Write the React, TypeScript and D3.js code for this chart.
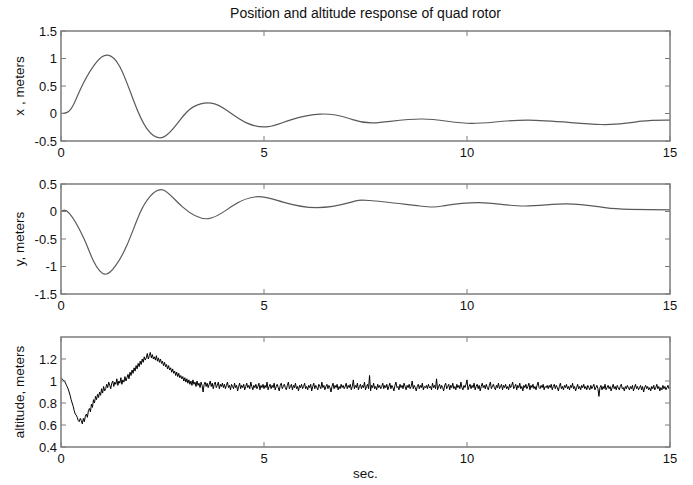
import React from "react";
import * as d3 from "d3";

// x position samples (sec, meters)
const xTimes = [0, 0.15, 0.3, 0.55, 0.88, 1.15, 1.45, 1.78, 2.11, 2.52, 2.93, 3.26, 3.7, 4.1, 4.57, 5.1, 5.64, 6.4, 7.1, 7.7, 8.9, 10.1, 11.5, 13.3, 14.3, 15];
const xValues = [0, 0.02, 0.15, 0.55, 0.94, 1.06, 0.85, 0.25, -0.27, -0.43, -0.12, 0.12, 0.19, 0.05, -0.17, -0.24, -0.12, -0.01, -0.09, -0.17, -0.1, -0.18, -0.12, -0.2, -0.14, -0.12];

// y position samples
const yTimes = [0, 0.2, 0.55, 0.8, 1.08, 1.35, 1.62, 1.95, 2.2, 2.52, 3.0, 3.63, 4.24, 4.85, 5.47, 6.3, 7.1, 7.6, 8.84, 9.4, 10.3, 11.4, 12.45, 13.4, 14.0, 15];
const yValues = [0, -0.03, -0.47, -0.9, -1.14, -0.98, -0.62, -0.02, 0.28, 0.39, 0.08, -0.13, 0.11, 0.27, 0.17, 0.07, 0.16, 0.2, 0.1, 0.1, 0.16, 0.1, 0.14, 0.07, 0.04, 0.03];

// altitude, sampled every 0.025 s (noisy measurement), one row per half second
const altStep = 0.025;
const altValues = [
  1.03, 1.02, 1.01, 1.00, 0.99, 0.97, 0.95, 0.93, 0.90, 0.87, 0.83, 0.80, 0.77, 0.73, 0.70, 0.69, 0.67, 0.64, 0.63, 0.66,
  0.64, 0.61, 0.66, 0.63, 0.68, 0.70, 0.67, 0.73, 0.75, 0.72, 0.79, 0.76, 0.83, 0.80, 0.86, 0.83, 0.88, 0.85, 0.90, 0.87,
  0.93, 0.89, 0.95, 0.91, 0.93, 0.97, 0.94, 0.99, 0.96, 0.93, 0.98, 1.00, 0.95, 0.99, 0.97, 1.02, 0.96, 1.00, 0.98, 1.03,
  0.97, 1.01, 0.99, 1.04, 1.00, 1.03, 1.06, 1.02, 1.08, 1.05, 1.10, 1.07, 1.12, 1.09, 1.14, 1.11, 1.16, 1.13, 1.18, 1.15,
  1.20, 1.17, 1.22, 1.19, 1.21, 1.25, 1.20, 1.23, 1.26, 1.21, 1.24, 1.20, 1.22, 1.19, 1.23, 1.18, 1.21, 1.17, 1.20, 1.16,
  1.18, 1.14, 1.17, 1.13, 1.15, 1.11, 1.14, 1.10, 1.12, 1.08, 1.11, 1.07, 1.09, 1.05, 1.08, 1.04, 1.07, 1.03, 1.05, 1.02,
  1.04, 1.00, 1.03, 0.99, 1.02, 0.98, 1.01, 0.97, 1.00, 0.96, 1.01, 0.97, 0.99, 0.95, 1.00, 0.96, 0.98, 0.94, 0.99, 0.96,
  0.90, 0.97, 0.99, 0.95, 0.98, 0.94, 0.97, 1.00, 0.95, 0.98, 0.93, 0.97, 0.99, 0.94, 0.96, 0.99, 0.93, 0.97, 0.95, 0.98,
  0.94, 0.97, 0.93, 0.96, 0.99, 0.94, 0.96, 0.92, 0.97, 0.95, 0.93, 0.98, 0.94, 0.96, 0.91, 0.95, 0.98, 0.93, 0.96, 0.94,
  0.97, 0.92, 0.95, 0.98, 0.94, 0.96, 0.93, 0.99, 0.95, 0.92, 0.96, 0.94, 0.97, 0.93, 0.95, 0.98, 0.92, 0.96, 0.94, 0.97,
  0.93, 0.96, 0.94, 0.99, 0.92, 0.95, 0.97, 0.93, 0.96, 0.94, 0.98, 0.92, 0.95, 0.97, 0.94, 0.91, 0.96, 0.98, 0.93, 0.95,
  0.97, 0.94, 0.92, 0.96, 0.99, 0.93, 0.95, 0.97, 0.92, 0.96, 0.94, 0.98, 0.93, 0.95, 0.91, 0.96, 0.94, 0.97, 0.93, 0.95,
  0.98, 0.93, 0.95, 0.92, 0.96, 0.94, 0.97, 0.91, 0.95, 0.98, 0.93, 0.96, 0.94, 0.92, 0.97, 0.95, 0.93, 0.99, 0.94, 0.96,
  0.92, 0.95, 0.97, 0.93, 0.96, 0.94, 0.90, 0.95, 0.98, 0.93, 0.96, 0.94, 0.97, 0.92, 0.95, 0.93, 0.97, 0.94, 0.96, 0.93,
  0.95, 0.98, 0.93, 0.96, 0.94, 0.97, 0.92, 0.95, 1.01, 0.93, 0.96, 0.94, 0.98, 0.92, 0.95, 0.97, 0.93, 0.96, 0.94, 0.99,
  0.92, 0.95, 0.97, 0.93, 1.05, 0.91, 0.96, 0.94, 0.98, 0.93, 0.95, 0.92, 0.97, 0.94, 0.96, 0.93, 0.95, 0.98, 0.93, 0.96,
  0.94, 0.97, 0.92, 0.95, 0.98, 0.93, 0.96, 0.94, 0.91, 0.96, 0.99, 0.94, 0.95, 0.92, 0.97, 0.94, 0.96, 0.93, 0.98, 0.95,
  0.92, 0.96, 0.94, 0.97, 0.93, 0.95, 1.00, 0.93, 0.96, 0.94, 0.91, 0.95, 0.97, 0.93, 0.96, 0.94, 0.98, 0.92, 0.95, 0.94,
  0.96, 0.93, 0.97, 0.94, 0.95, 0.92, 0.98, 0.94, 0.96, 0.93, 1.02, 0.92, 0.95, 0.97, 0.93, 0.96, 0.94, 0.91, 0.96, 0.98,
  0.93, 0.95, 0.97, 0.92, 0.96, 0.94, 0.98, 0.93, 0.95, 0.92, 0.97, 0.94, 0.96, 0.93, 0.99, 0.94, 0.92, 0.96, 0.94, 0.97,
  1.01, 0.92, 0.95, 0.97, 0.93, 0.96, 0.94, 0.98, 0.92, 0.95, 0.97, 0.93, 0.96, 0.91, 0.95, 0.98, 0.94, 0.96, 0.93, 0.97,
  0.94, 0.92, 0.96, 0.99, 0.93, 0.95, 0.97, 0.94, 0.92, 0.96, 0.94, 0.98, 0.93, 0.95, 0.97, 0.92, 0.96, 0.94, 0.97, 0.93,
  0.95, 0.92, 0.97, 0.94, 0.96, 0.99, 0.93, 0.95, 0.97, 0.92, 0.96, 0.94, 0.98, 0.93, 0.95, 0.91, 0.96, 0.94, 0.97, 0.93,
  0.95, 0.98, 0.92, 0.96, 0.94, 0.97, 0.93, 0.95, 0.92, 0.96, 0.99, 0.94, 0.93, 0.96, 0.94, 0.97, 0.92, 0.95, 0.94, 0.96,
  0.93, 0.96, 0.94, 0.97, 0.92, 0.95, 0.97, 0.93, 0.96, 0.94, 0.91, 0.95, 0.98, 0.93, 0.95, 0.92, 0.96, 0.94, 0.97, 0.93,
  0.95, 0.92, 0.96, 0.94, 0.98, 0.93, 0.95, 0.91, 0.94, 0.97, 0.93, 0.95, 0.92, 0.96, 0.94, 0.97, 0.93, 0.95, 0.92, 0.96,
  0.94, 0.92, 0.96, 0.93, 0.95, 0.97, 0.92, 0.94, 0.96, 0.93, 0.86, 0.94, 0.96, 0.92, 0.95, 0.93, 0.97, 0.92, 0.94, 0.96,
  0.93, 0.95, 0.91, 0.94, 0.97, 0.93, 0.95, 0.92, 0.96, 0.94, 0.92, 0.95, 0.97, 0.93, 0.94, 0.91, 0.95, 0.93, 0.96, 0.94,
  0.92, 0.95, 0.93, 0.96, 0.91, 0.94, 0.97, 0.93, 0.95, 0.92, 0.94, 0.96, 0.92, 0.95, 0.90, 0.94, 0.96, 0.93, 0.95, 0.92,
  0.94, 0.91, 0.95, 0.93, 0.96, 0.92, 0.94, 0.97, 0.93, 0.95, 0.91, 0.94, 0.92, 0.96, 0.93, 0.95, 0.92, 0.94, 0.96, 0.93,
  0.94,
];

const timeTicks = [0, 5, 10, 15];
const xTicks = [-0.5, 0, 0.5, 1, 1.5];
const yTicks = [-1.5, -1, -0.5, 0, 0.5];
const altTicks = [0.4, 0.6, 0.8, 1, 1.2];

const W = 693;
const H = 485;
const left = 61;
const right = 670;
const panelH = 110;
const tops = [31, 184, 337];
const FONT = "Arial, 'Liberation Sans', Helvetica, sans-serif";
const tickLen = 5;
const axisColor = "#7c7c7c";
const textColor = "#111";

type Pt = [number, number];

const Panel = ({ top, domain, ticks, label, points, smooth, color }: {
  top: number; domain: [number, number]; ticks: number[]; label: string;
  points: Pt[]; smooth: boolean; color: string;
}) => {
  const x = d3.scaleLinear().domain([0, 15]).range([left, right]);
  const y = d3.scaleLinear().domain(domain).range([top + panelH, top]);
  const line = d3.line<Pt>()
    .x(d => x(d[0]))
    .y(d => y(d[1]))
    .curve(smooth ? d3.curveNatural : d3.curveLinear);
  const bottom = top + panelH;
  return (
    <g>
      <path d={line(points) || ""} fill="none" stroke={color} strokeWidth={smooth ? 1.2 : 1} strokeLinejoin="round" />
      <rect x={left} y={top} width={right - left} height={panelH} fill="none" stroke={axisColor} strokeWidth={1.5} />
      {timeTicks.map(t => (
        <g key={"t" + t}>
          <line x1={x(t)} x2={x(t)} y1={bottom} y2={bottom - tickLen} stroke={axisColor} />
          <line x1={x(t)} x2={x(t)} y1={top} y2={top + tickLen} stroke={axisColor} />
          <text x={x(t)} y={bottom + 15.5} textAnchor="middle" fontSize={13} fontFamily={FONT} fill={textColor}>{t}</text>
        </g>
      ))}
      {ticks.map(v => (
        <g key={"v" + v}>
          <line x1={left} x2={left + tickLen} y1={y(v)} y2={y(v)} stroke={axisColor} />
          <line x1={right} x2={right - tickLen} y1={y(v)} y2={y(v)} stroke={axisColor} />
          <text x={left - 4} y={y(v) + 4.5} textAnchor="end" fontSize={13} fontFamily={FONT} fill={textColor}>{String(v)}</text>
        </g>
      ))}
      <text transform={`translate(24,${top + panelH / 2}) rotate(-90)`} textAnchor="middle" fontSize={13.5} fontFamily={FONT} fill={textColor}>{label}</text>
    </g>
  );
};

export default function App() {
  const xPts: Pt[] = xTimes.map((t, i) => [t, xValues[i]]);
  const yPts: Pt[] = yTimes.map((t, i) => [t, yValues[i]]);
  const altPts: Pt[] = altValues.map((v, i) => [i * altStep, v]);
  return (
    <div style={{ position: "fixed", left: 0, top: 0 }}>
      <svg width={W} height={H} style={{ display: "block", background: "#fff" }}>
        <text x={(left + right) / 2} y={18} textAnchor="middle" fontSize={14} fontFamily={FONT} fill={textColor}>
          Position and altitude response of quad rotor
        </text>
        <Panel top={tops[0]} domain={[-0.5, 1.5]} ticks={xTicks} label="x , meters" points={xPts} smooth color="#5a5a5a" />
        <Panel top={tops[1]} domain={[-1.5, 0.5]} ticks={yTicks} label="y, meters" points={yPts} smooth color="#5a5a5a" />
        <Panel top={tops[2]} domain={[0.4, 1.4]} ticks={altTicks} label="altitude, meters" points={altPts} smooth={false} color="#000" />
        <text x={(left + right) / 2} y={478} textAnchor="middle" fontSize={13.5} fontFamily={FONT} fill={textColor}>sec.</text>
      </svg>
    </div>
  );
}
